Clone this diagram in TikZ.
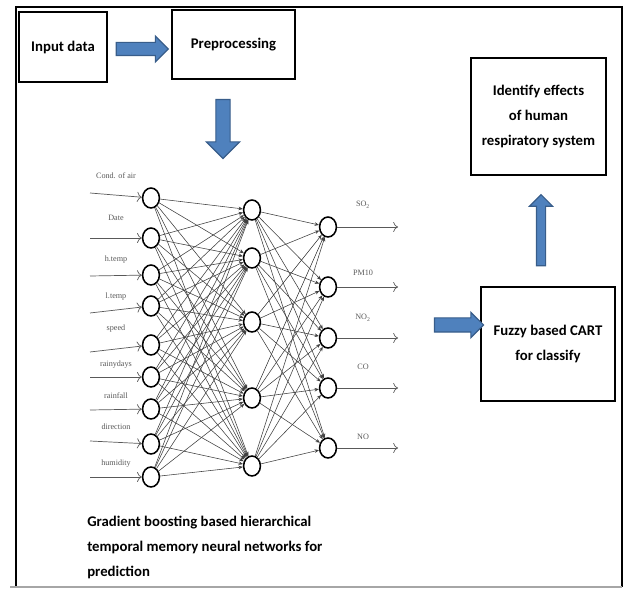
\documentclass[tikz,border=0pt]{standalone}
\usepackage{fontspec}
\setmainfont{Carlito}
\newfontfamily\netfont{Liberation Serif}
\usetikzlibrary{arrows.meta,shapes.geometric,shapes.arrows}
\definecolor{arrowfill}{HTML}{4F81BD}
\definecolor{arrowedge}{HTML}{385D8A}
\newcommand\boxfont{\bfseries\fontsize{10.5}{17.8}\selectfont}

\begin{document}
\begin{tikzpicture}[x=0.025cm, y=-0.025cm,
  box/.style={draw=black, line width=0.9pt, align=center, font=\boxfont},
  blockarrow/.style={single arrow, fill=arrowfill, draw=arrowedge, line width=0.8pt, inner xsep=0pt},
  neuron/.style={ellipse, draw, line width=1.1pt, minimum width=0.42cm, minimum height=0.5cm, inner sep=0pt},
  link/.style={-{Stealth[length=1.1mm,width=0.9mm]}, draw=black!75, line width=0.4pt},
  feed/.style={-{To[length=1.2mm]}, draw=black!65, line width=0.5pt},
  netlabel/.style={font=\netfont\fontsize{5.8}{6}\selectfont, text=black!65}
]
\useasboundingbox (0,0) rectangle (626,589);
% outer frame
\draw[line width=1.5pt] (16,587) -- (16,7) -- (622,7) -- (622,587);
\draw[black!35, line width=0.8pt] (10,587) -- (622,587);

% process boxes
\node[box, minimum width=2.2cm, minimum height=1.75cm] (inp) at (63,47) {Input data};
\node[box, minimum width=3.075cm, minimum height=1.725cm] (pre) at (233.5,44.5) {Preprocessing};
\node[box, minimum width=3.375cm, minimum height=2.925cm] (eff) at (538.5,116.5) {Identify effects\\of human\\respiratory system};
\node[box, minimum width=3.35cm, minimum height=2.85cm] (cart) at (548,344) {Fuzzy based CART\\for classify};

% block arrows
\node[blockarrow, inner ysep=0.15cm, single arrow head extend=0.16cm, minimum height=1.3cm] (arrA) at (139,49) {};
\node[blockarrow, inner ysep=0.1625cm, single arrow head extend=0.24cm, minimum height=1.475cm, rotate=-90] (arrB) at (223,125.5) {};
\node[blockarrow, inner ysep=0.1cm, single arrow head extend=0.175cm, minimum height=1.775cm, rotate=90] (arrC) at (541,232.5) {};
\node[blockarrow, inner ysep=0.1625cm, single arrow head extend=0.14cm, minimum height=1.225cm] (arrD) at (455.5,325) {};

% network
\foreach \y [count=\i] in {198,238,275,306,345,377,409,444,477}
  \node[neuron] (in\i) at (151,\y) {};
\foreach \y [count=\i] in {210,258,322,398,466}
  \node[neuron] (hid\i) at (252,\y) {};
\foreach \y [count=\i] in {227,287,338,388,448}
  \node[neuron] (out\i) at (328,\y) {};
\foreach \i in {1,...,9}
  \foreach \j in {1,...,5}
    \draw[link] (in\i) -- (hid\j);
\foreach \i in {1,...,5}
  \foreach \j in {1,...,5}
    \draw[link] (hid\i) -- (out\j);

% inputs
\foreach \ya/\yl/\txt [count=\i] in {193/176/Cond. of air, 238/218/Date, 276/260/h.temp, 313/297/l.temp, 352/329/speed, 377/365/rainydays, 410/396/rainfall, 441/427/direction, 477/464/humidity} {
  \coordinate (src\i) at (90,\ya);
  \draw[feed] (src\i) -- (in\i);
  \node[netlabel] (lab\i) at (116,\yl) {\txt};
}
% outputs
\foreach \yo/\yl/\txt [count=\i] in {227/205/SO\textsubscript{2}, 287/273/PM10, 338/318/NO\textsubscript{2}, 388/367/CO, 448/437/NO} {
  \coordinate (dst\i) at (398,\yo);
  \draw[feed] (out\i) -- (dst\i);
  \node[netlabel] (olab\i) at (363,\yl) {\txt};
}

\node[font=\boxfont, align=left, anchor=north west, inner sep=0pt] (cap) at (87,516) {Gradient boosting based hierarchical\\temporal memory neural networks for\\prediction};
\end{tikzpicture}
\end{document}
